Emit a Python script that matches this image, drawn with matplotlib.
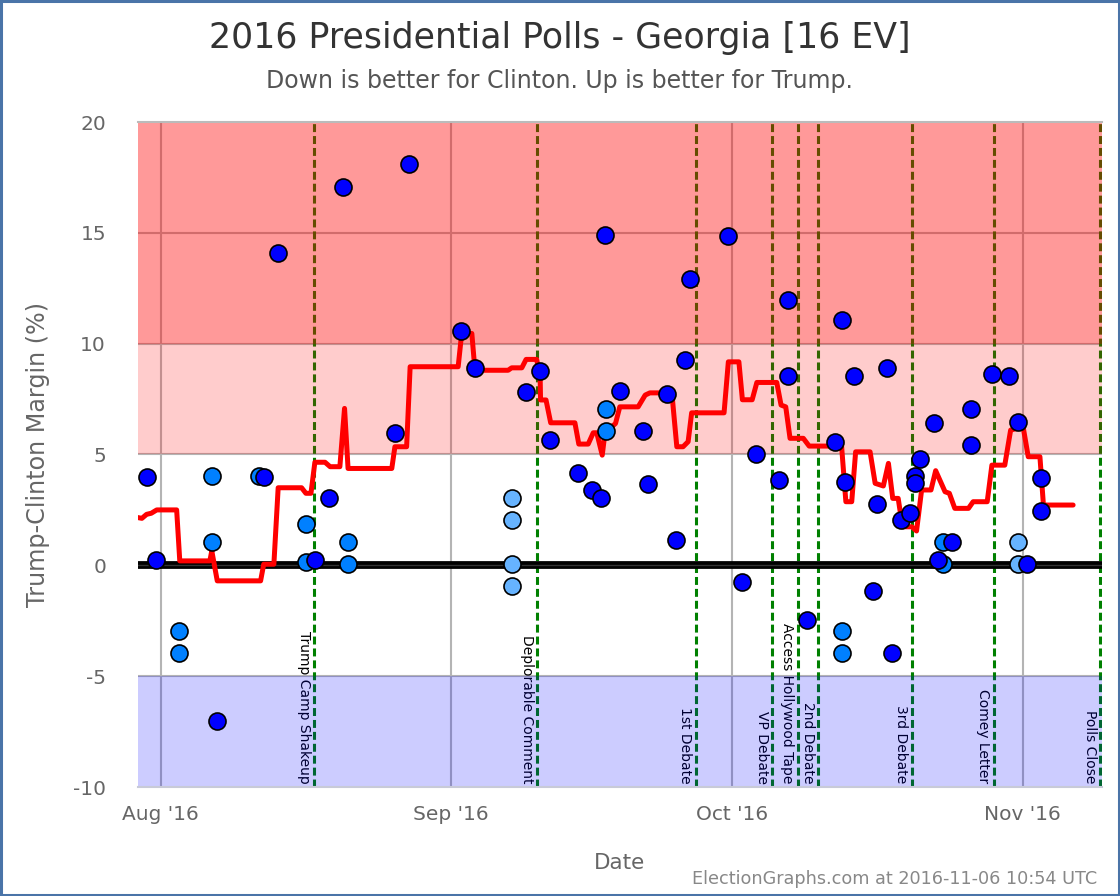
import matplotlib
matplotlib.use("Agg")
import matplotlib.pyplot as plt
import matplotlib.dates as mdates
import pandas as pd
from matplotlib.patches import Rectangle

# ---------------- data ----------------
dark_dates = ['2016-07-30 12:00', '2016-07-31 12:00', '2016-08-07', '2016-08-12', '2016-08-13 12:00',
              '2016-08-17 12:00', '2016-08-19', '2016-08-20 12:00', '2016-08-26', '2016-08-27 12:00',
              '2016-09-02', '2016-09-03 12:00', '2016-09-09', '2016-09-10 12:00', '2016-09-11 12:00',
              '2016-09-14 12:00', '2016-09-16', '2016-09-17', '2016-09-17 10:00', '2016-09-19',
              '2016-09-21 12:00', '2016-09-22', '2016-09-24', '2016-09-25', '2016-09-26',
              '2016-09-26 12:00', '2016-09-30 12:00', '2016-10-02', '2016-10-03 12:00', '2016-10-06',
              '2016-10-07', '2016-10-07', '2016-10-09', '2016-10-12', '2016-10-12 16:00',
              '2016-10-13', '2016-10-14', '2016-10-16', '2016-10-16 12:00', '2016-10-17 12:00',
              '2016-10-18', '2016-10-19', '2016-10-20', '2016-10-20 12:00', '2016-10-20 12:00',
              '2016-10-21', '2016-10-22 12:00', '2016-10-23', '2016-10-24 12:00', '2016-10-26 12:00',
              '2016-10-26 12:00', '2016-10-28 18:00', '2016-10-30 12:00', '2016-10-31 12:00',
              '2016-11-01 12:00', '2016-11-03', '2016-11-03']
dark_values = [4.0, 0.25, -7.0, 4.0, 14.1,
               0.25, 3.05, 17.05, 5.95, 18.1,
               10.55, 8.9, 7.8, 8.75, 5.65,
               4.15, 3.4, 3.05, 14.9, 7.85,
               6.05, 3.65, 7.75, 1.15, 9.25,
               12.9, 14.85, -0.75, 5.0, 3.85,
               11.95, 8.55, -2.45, 5.55, 11.05,
               3.75, 8.55, -1.15, 2.75, 8.9,
               -3.95, 2.05, 2.35, 4.05, 3.7,
               4.8, 6.4, 0.25, 1.05, 7.05,
               5.45, 8.65, 8.55, 6.45,
               0.05, 3.95, 2.45]

mid_dates = ['2016-08-03', '2016-08-03', '2016-08-06 12:00', '2016-08-06 12:00', '2016-08-11 12:00',
             '2016-08-16 12:00', '2016-08-16 12:00', '2016-08-21', '2016-08-21', '2016-09-17 12:00',
             '2016-09-17 12:00', '2016-10-12 16:00', '2016-10-12 16:00', '2016-10-23 12:00',
             '2016-10-23 12:00']
mid_values = [-2.95, -3.95, 4.05, 1.05, 4.05,
              1.85, 0.15, 1.05, 0.05, 7.05,
              6.05, -2.95, -3.95, 1.05,
              0.05]

light_dates = ['2016-09-07 12:00', '2016-09-07 12:00', '2016-09-07 12:00', '2016-09-07 12:00',
               '2016-10-31 12:00', '2016-10-31 12:00']
light_values = [3.05, 2.05, 0.05, -0.95, 1.05, 0.05]

avg_dates = ['2016-07-29 12:00', '2016-07-30 00:00', '2016-07-30 12:00', '2016-07-31 00:00',
             '2016-07-31 14:00', '2016-08-02 17:00', '2016-08-03 01:00', '2016-08-06 06:00',
             '2016-08-06 11:00', '2016-08-07 01:00', '2016-08-11 16:00', '2016-08-12 00:00',
             '2016-08-13 02:00', '2016-08-13 13:00', '2016-08-16 01:00', '2016-08-16 12:00',
             '2016-08-17 01:00', '2016-08-17 11:00', '2016-08-18 13:00', '2016-08-19 02:00',
             '2016-08-20 03:00', '2016-08-20 15:00', '2016-08-21 00:00', '2016-08-25 16:00',
             '2016-08-26 00:00', '2016-08-27 06:00', '2016-08-27 15:00', '2016-09-01 18:00',
             '2016-09-02 03:00', '2016-09-03 05:00', '2016-09-03 13:00', '2016-09-07 02:00',
             '2016-09-07 11:00', '2016-09-08 13:00', '2016-09-09 00:00', '2016-09-10 03:00',
             '2016-09-10 12:00', '2016-09-10 13:00', '2016-09-11 03:00', '2016-09-11 15:00',
             '2016-09-14 05:00', '2016-09-14 15:00', '2016-09-15 15:00', '2016-09-16 04:00',
             '2016-09-16 13:00', '2016-09-17 03:00', '2016-09-17 10:00', '2016-09-18 13:00',
             '2016-09-19 00:00', '2016-09-20 23:00', '2016-09-21 17:00', '2016-09-22 05:00',
             '2016-09-24 08:00', '2016-09-24 15:00', '2016-09-25 02:00', '2016-09-25 18:00',
             '2016-09-26 07:00', '2016-09-26 16:00', '2016-09-30 03:00', '2016-09-30 14:00',
             '2016-10-01 17:00', '2016-10-02 02:00', '2016-10-03 03:00', '2016-10-03 15:00',
             '2016-10-05 18:00', '2016-10-06 05:00', '2016-10-06 17:00', '2016-10-07 04:00',
             '2016-10-08 14:00', '2016-10-09 05:00', '2016-10-12 16:00', '2016-10-13 03:00',
             '2016-10-13 18:00', '2016-10-14 04:00', '2016-10-15 17:00', '2016-10-16 06:00',
             '2016-10-17 03:00', '2016-10-17 16:00', '2016-10-18 03:00', '2016-10-18 17:00',
             '2016-10-19 04:00', '2016-10-20 04:00', '2016-10-20 16:00', '2016-10-21 05:00',
             '2016-10-22 05:00', '2016-10-22 17:00', '2016-10-23 17:00', '2016-10-24 04:00',
             '2016-10-24 18:00', '2016-10-26 05:00', '2016-10-26 17:00', '2016-10-28 05:00',
             '2016-10-28 17:00', '2016-10-30 02:00', '2016-10-30 17:00', '2016-11-01 01:00',
             '2016-11-01 14:00', '2016-11-02 20:00', '2016-11-03 05:00', '2016-11-06 09:00']
avg_values = [2.16, 2.12, 2.3, 2.35,
              2.5, 2.5, 0.2, 0.2,
              0.65, -0.7, -0.7, 0.05,
              0.05, 3.5, 3.5, 3.25,
              3.25, 4.65, 4.65, 4.45,
              4.45, 7.08, 4.37, 4.37,
              5.35, 5.35, 8.96, 8.96,
              10.46, 10.46, 8.8, 8.8,
              8.91, 8.91, 9.29, 9.29,
              8.5, 7.46, 7.46, 6.43,
              6.43, 5.47, 5.47, 5.98,
              5.98, 4.97, 5.98, 6.4,
              7.15, 7.15, 7.68, 7.78,
              7.78, 7.46, 5.35, 5.35,
              5.58, 6.88, 6.88, 9.18,
              9.18, 7.47, 7.47, 8.25,
              8.25, 7.23, 7.15, 5.73,
              5.73, 5.38, 5.38, 2.87,
              2.87, 5.12, 5.12, 3.7,
              3.58, 4.6, 3.02, 3.02,
              1.74, 1.74, 1.55, 3.4,
              3.4, 4.27, 3.32, 3.25,
              2.57, 2.57, 2.87, 2.87,
              4.52, 4.52, 6.1, 6.25,
              4.9, 4.9, 2.72, 2.72]

event_names = ['Trump Camp Shakeup', 'Deplorable Comment', '1st Debate', 'VP Debate',
               'Access Hollywood Tape', '2nd Debate', '3rd Debate', 'Comey Letter', 'Polls Close']
event_dates = ['2016-08-17 09:00', '2016-09-10 05:00', '2016-09-27 03:00', '2016-10-05 06:00',
               '2016-10-08 00:00', '2016-10-10 04:00', '2016-10-20 04:00', '2016-10-28 22:00',
               '2016-11-09 06:00']

x_start = '2016-07-29 14:00'
x_end = '2016-11-09 11:00'

title = '2016 Presidential Polls - Georgia [16 EV]'
subtitle = 'Down is better for Clinton. Up is better for Trump.'
footer = 'ElectionGraphs.com at 2016-11-06 10:54 UTC'


def to_dt(values):
    return pd.to_datetime(values, format='mixed')


# ---------------- plot ----------------
plt.rcParams['font.family'] = ['DejaVu Sans']
plt.rcParams['axes.unicode_minus'] = False
fig = plt.figure(figsize=(11.2, 8.96), dpi=100)
ax = fig.add_axes([138 / 1120, 1 - 787 / 896, 964 / 1120, 665 / 896])

ax.set_xlim(pd.Timestamp(x_start), pd.Timestamp(x_end))
ax.set_ylim(-10, 20)

# grid
for m in ['2016-08-01', '2016-09-01', '2016-10-01', '2016-11-01']:
    ax.axvline(pd.Timestamp(m), color='#b4b4b4', lw=1.5, zorder=1)
for yv in [-5, 5, 10, 15]:
    ax.axhline(yv, color='#b4b4b4', lw=1.5, zorder=1)

# event lines and labels
for name, d in zip(event_names, event_dates):
    t = pd.Timestamp(d)
    ax.axvline(t, color='#008000', lw=2.2, ls=(0, (2.6, 1.3)), zorder=1.2)
    ax.annotate(name, xy=(t, -10), xytext=(-2.5, 2.5), textcoords='offset points',
                rotation=270, rotation_mode='anchor', ha='right', va='top',
                fontsize=10, color='black', zorder=1.3)

# bands
ax.axhspan(10, 20, color='#ff0000', alpha=0.4, lw=0, zorder=2)
ax.axhspan(5, 10, color='#ff0000', alpha=0.2, lw=0, zorder=2)
ax.axhspan(-10, -5, color='#0000ff', alpha=0.2, lw=0, zorder=2)

# zero line
ax.axhline(0, color='black', lw=5.6, zorder=3)
ax.axhline(0, color='#333333', lw=1.0, zorder=3.1)

# average
ax.plot(to_dt(avg_dates), avg_values, color='#ff0000', lw=3.6,
        solid_joinstyle='round', solid_capstyle='round', zorder=4)

# polls
kw = dict(s=150, edgecolors='black', linewidths=1.2, zorder=5)
ax.scatter(to_dt(light_dates), light_values, c='#66b3ff', **kw)
ax.scatter(to_dt(mid_dates), mid_values, c='#0080ff', **kw)
ax.scatter(to_dt(dark_dates), dark_values, c='#0000ff', **kw)

# axes styling
for s in ['left', 'right']:
    ax.spines[s].set_visible(False)
ax.spines['top'].set_color('#bbbbbb')
ax.spines['top'].set_linewidth(1.5)
ax.spines['bottom'].set_color('#c8cad8')
ax.spines['bottom'].set_linewidth(1.5)

ax.set_yticks([-10, -5, 0, 5, 10, 15, 20])
ax.xaxis.set_major_locator(mdates.MonthLocator())
ax.xaxis.set_major_formatter(mdates.DateFormatter("%b '%y"))
ax.tick_params(axis='both', length=0, labelsize=14.5, colors='#666666')
ax.tick_params(axis='y', pad=23)
ax.tick_params(axis='x', pad=13)

ax.set_ylabel('Trump-Clinton Margin (%)', fontsize=17.2, color='#666666')
ax.yaxis.set_label_coords(-0.091, 0.5)
ax.set_xlabel('Date', fontsize=15.5, color='#666666')
ax.xaxis.set_label_coords(0.5, -0.099)

fig.text(0.4996, 0.9576, title, ha='center', va='center', fontsize=25, color='#333333')
fig.text(0.4996, 0.9096, subtitle, ha='center', va='center', fontsize=17, color='#555555')
fig.text(0.980, 0.019, footer, ha='right', va='center', fontsize=12.7, color='#888888')

fig.patches.append(Rectangle((0.001, 0.001), 0.998, 0.998, transform=fig.transFigure,
                             fill=False, edgecolor='#4a74a8', lw=2.2, zorder=10))

fig.savefig('out.png', dpi=100)
